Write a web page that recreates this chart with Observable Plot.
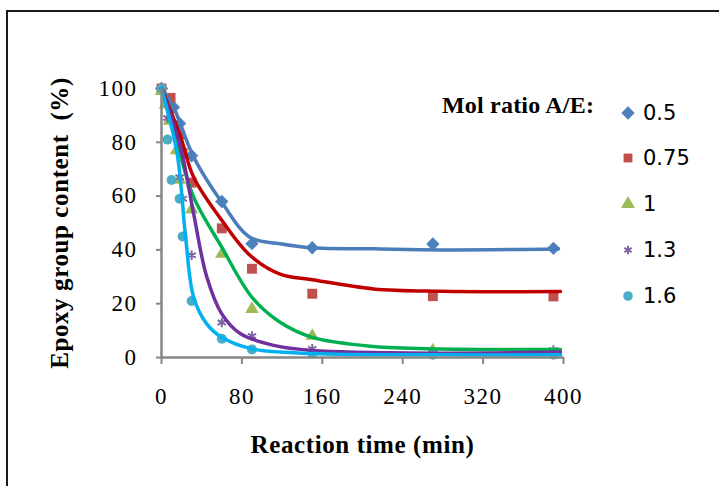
<!DOCTYPE html>
<html><head><meta charset="utf-8">
<script src="https://cdn.jsdelivr.net/npm/d3@7"></script>
<script src="https://cdn.jsdelivr.net/npm/@observablehq/plot@0.6"></script>
<style>
body{margin:0;width:719px;height:486px;overflow:hidden;position:relative;background:#fff}
#chart{position:absolute;left:0;top:0}
#chart svg{background:transparent}
#frame{position:absolute;left:6px;top:10px;width:800px;height:600px;border-left:2px solid #1a1a1a;border-top:2px solid #1a1a1a;pointer-events:none}
#legend{position:absolute;left:0;top:0}
#legtitle{position:absolute;left:442px;top:92px;font:bold 24px "Liberation Serif",serif;white-space:nowrap;letter-spacing:0.2px}
.li{position:absolute;left:618px;height:20px;display:flex;align-items:center;font:21px "DejaVu Sans",sans-serif;white-space:nowrap}
.li svg{width:20px;height:20px;margin-right:5px}
g[aria-label="y-axis tick label"] text, g[aria-label="x-axis tick label"] text{font:23px "Liberation Serif",serif;letter-spacing:1.5px}
g[aria-label="y-axis label"] text, g[aria-label="x-axis label"] text{font:bold 25px "Liberation Serif",serif;letter-spacing:0.6px}
</style></head><body>
<div id="chart"></div>
<div id="legend"><div id="legtitle">Mol ratio A/E:</div></div>
<div id="frame"></div>
<script>
// Series labels (mol ratio A/E)
const ratios = ["0.5", "0.75", "1", "1.3", "1.6"];
const markerColors = ["#4F81BD", "#C0504D", "#9BBB59", "#8064A2", "#4BACC6"];
const lineColors = ["#4A7EBB", "#C00000", "#00B050", "#7030A0", "#00B0F0"];
const symbols = ["diamond2", "square", "triangle", "asterisk", "circle"];
const xTicks = [0, 80, 160, 240, 320, 400];
const yTicks = [0, 20, 40, 60, 80, 100];

// Measured points: time (min) and epoxy group content (%)
const t05 = [0, 12, 18, 30, 60, 90, 150, 270, 390];
const v05 = [100, 93, 87, 75, 58, 42.3, 40.8, 42.2, 40.6];
const t075 = [0, 9, 18, 21, 30, 60, 90, 150, 270, 390];
const v075 = [100, 96.5, 83, 76, 65, 48, 33, 23.7, 22.8, 22.7];
const t1 = [0, 4, 8, 15, 18, 30, 60, 90, 150, 270, 390];
const v1 = [99, 94, 88, 77, 66, 55, 38.5, 18, 8, 2.6, 1.2];
const t13 = [0, 6, 18, 21, 30, 60, 90, 150, 270, 390];
const v13 = [100, 89, 67, 59, 38, 13, 8, 3.2, 2, 2.8];
const t16 = [0, 6, 10, 18, 21, 30, 60, 90, 150, 270, 390];
const v16 = [100, 81, 66, 59, 45, 21, 7, 3, 1.5, 1, 1];

// Fitted curves
const ct05 = [0, 12, 32, 60, 88, 118, 150, 211, 278, 395];
const cv05 = [100, 93, 74.5, 57.7, 44.7, 42.3, 40.8, 40.4, 40, 40.3];
const ct075 = [0, 19, 32, 60, 88, 118, 150, 211, 278, 397];
const cv075 = [100, 82, 67, 51, 38, 31, 28.9, 25.5, 24.6, 24.5];
const ct1 = [0, 15.6, 32, 60, 90, 118, 150, 211, 278, 397];
const cv1 = [100, 79.4, 59.6, 41, 22.4, 13.1, 7.5, 4.1, 3.2, 3];
const ct13 = [0, 19, 32, 45, 60, 78.6, 111.7, 150, 277, 397];
const cv13 = [100, 78, 53.4, 30, 16.2, 8.8, 4.5, 2.6, 1.6, 2];
const ct16 = [0, 15.6, 24, 32, 45, 60, 90, 150, 277, 397];
const cv16 = [100, 75.7, 44.7, 22.4, 12.5, 7.5, 3.2, 1.5, 1, 1];

const pts = [[t05, v05], [t075, v075], [t1, v1], [t13, v13], [t16, v16]];
const crv = [[ct05, cv05], [ct075, cv075], [ct1, cv1], [ct13, cv13], [ct16, cv16]];

const points = pts.flatMap(([ts, vs], i) => ts.map((t, j) => ({t, v: vs[j], s: i})));
const curves = crv.flatMap(([ts, vs], i) => ts.map((t, j) => ({t, v: vs[j], s: i})));

const marks = [];
for (let i = 0; i < 5; i++) {
  const d = points.filter(p => p.s === i);
  const stroked = symbols[i] === "asterisk";
  marks.push(Plot.dot(d, {
    x: "t", y: "v", symbol: () => symbols[i],
    r: [6, 5.6, 5, 4.5, 5][i],
    fill: stroked ? "none" : markerColors[i],
    stroke: stroked ? markerColors[i] : "none",
    strokeWidth: 2
  }));
}
for (let i = 0; i < 5; i++) {
  marks.push(Plot.line(curves.filter(p => p.s === i), {
    x: "t", y: "v", stroke: lineColors[i], strokeWidth: 3.5, curve: "catmull-rom"
  }));
}

const chart = Plot.plot({
  width: 719, height: 486,
  marginLeft: 161, marginRight: 156, marginTop: 88, marginBottom: 129,
  style: {background: "transparent", overflow: "visible"},
  x: {domain: [0, 400]},
  y: {domain: [0, 100]},
  symbol: {type: "identity"},
  marks: [
    Plot.axisY({ticks: yTicks, tickSize: 5, tickPadding: 19, stroke: "#868686", strokeWidth: 2, fill: "#000",
      label: "Epoxy group content  (%)", labelAnchor: "center", labelArrow: "none", labelOffset: 111}),
    Plot.axisX({ticks: xTicks, tickSize: 7, tickPadding: 23, stroke: "#868686", strokeWidth: 2, fill: "#000",
      label: "Reaction time (min)", labelAnchor: "center", labelArrow: "none", labelOffset: 95}),
    ...marks,
    Plot.ruleX([0], {stroke: "#868686", strokeWidth: 2.5}),
    Plot.ruleY([0], {stroke: "#868686", strokeWidth: 2.5})
  ]
});
document.getElementById("chart").appendChild(chart);

// Legend
const leg = document.getElementById("legend");
const ys = [103, 148, 194, 240, 286];
const lsize = [6, 5, 5.2, 4, 4.8];
ratios.forEach((r, i) => {
  const div = document.createElement("div");
  div.className = "li";
  div.style.top = ys[i] + "px";
  const stroked = symbols[i] === "asterisk";
  const symMap = {diamond2: d3.symbolDiamond2, square: d3.symbolSquare, triangle: d3.symbolTriangle, asterisk: d3.symbolAsterisk, circle: d3.symbolCircle};
  const path = d3.symbol(symMap[symbols[i]], Math.PI * lsize[i] * lsize[i])();
  div.innerHTML = `<svg viewBox="-10 -10 20 20"><path d="${path}" fill="${stroked ? "none" : markerColors[i]}" stroke="${stroked ? markerColors[i] : "none"}" stroke-width="2"/></svg><span>${r}</span>`;
  leg.appendChild(div);
});
</script>
</body></html>
